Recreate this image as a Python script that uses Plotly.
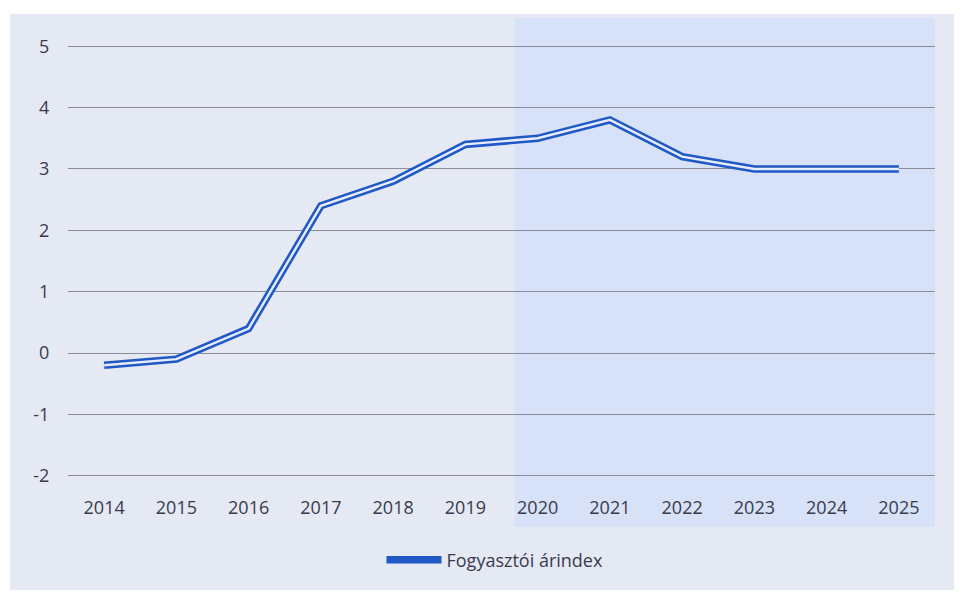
import plotly.graph_objects as go

years = ["2014", "2015", "2016", "2017", "2018", "2019", "2020", "2021", "2022", "2023", "2024", "2025"]
cpi = [-0.2, -0.1, 0.4, 2.4, 2.8, 3.4, 3.5, 3.8, 3.2, 3.0, 3.0, 3.0]
series_name = "Fogyasztói árindex"
y_ticks = [-2, -1, 0, 1, 2, 3, 4, 5]
y_tick_labels = ["-2", "-1", "0", "1", "2", "3", "4", "5"]

fig = go.Figure()
fig.add_trace(go.Scatter(
    x=years, y=cpi, mode="lines", name=series_name,
    line=dict(color="#2058c6", width=7.5), legendgroup="a", showlegend=True,
))
fig.add_trace(go.Scatter(
    x=years, y=cpi, mode="lines", name=series_name,
    line=dict(color="#e6ecf9", width=2.4), legendgroup="a", showlegend=False,
    hoverinfo="skip",
))

# outer light frame
fig.add_shape(type="rect", xref="paper", yref="paper",
              x0=-58/867, x1=1 + 23/867, y0=-113/432, y1=1 + 31/432,
              fillcolor="#e4e9f4", line=dict(width=0), layer="below")
# shaded forecast area
fig.add_shape(type="rect", xref="x", yref="paper",
              x0=5.68, x1=11.5, y0=-50/432, y1=1 + 27/432,
              fillcolor="#d7e1f8", line=dict(width=0), layer="below")

fig.update_layout(
    width=954, height=585,
    margin=dict(l=60, r=27, t=37, b=116),
    paper_bgcolor="white",
    plot_bgcolor="rgba(0,0,0,0)",
    font=dict(family="Open Sans", size=18, color="#3a3a4c"),
    showlegend=True,
    legend=dict(orientation="h", x=0.4925, xanchor="center", y=-0.192, yanchor="middle",
                bgcolor="rgba(0,0,0,0)", font=dict(size=18, color="#3a3a4c"),
                itemwidth=55),
)
fig.update_xaxes(type="category", range=[-0.5, 11.5], showgrid=False, zeroline=False,
                 showline=False, ticks="outside", ticklen=14, tickcolor="rgba(0,0,0,0)",
                 tickfont=dict(size=18, color="#3a3a4c"))
fig.update_yaxes(range=[-2.02, 5.02], tickvals=y_ticks, ticktext=y_tick_labels,
                 showgrid=True, gridcolor="#8c8c98",
                 gridwidth=1, zeroline=False, showline=False, ticks="outside",
                 ticklen=14, tickcolor="rgba(0,0,0,0)",
                 tickfont=dict(size=18, color="#3a3a4c"))

fig.write_html("out.html")
